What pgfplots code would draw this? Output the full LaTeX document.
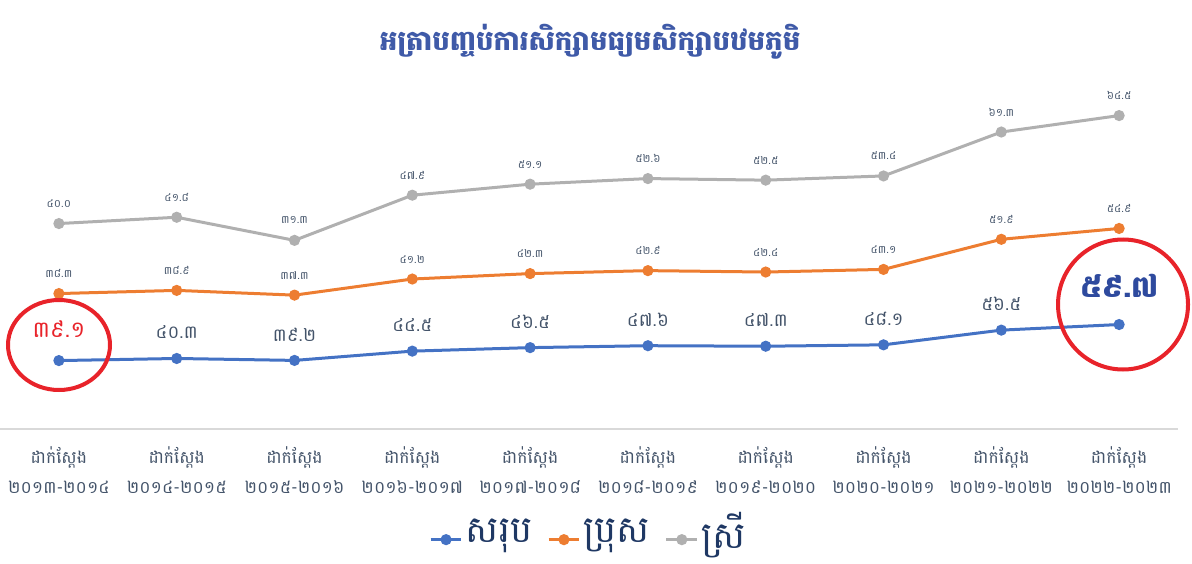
\documentclass[border=0pt]{standalone}
\usepackage{pgfplots}
\pgfplotsset{compat=1.18}
\usepackage{fontspec}
\newfontfamily\khmer[Script=Khmer]{Battambang}
\definecolor{cblue}{HTML}{4472C4}
\definecolor{corange}{HTML}{ED7D31}
\definecolor{cgrey}{HTML}{B0B0B0}
\definecolor{lblcol}{HTML}{44546A}
\definecolor{titlecol}{HTML}{3F5AA8}
\definecolor{bigcol}{HTML}{2E4A9E}
\definecolor{redc}{HTML}{E8232A}
\definecolor{axisgray}{HTML}{D9D9D9}
\definecolor{legcol}{HTML}{1F3864}
\begin{document}
\begin{tikzpicture}
\path[use as bounding box] (0,0) rectangle (596pt,281.5pt);
\node[font=\khmer\bfseries\fontsize{13.8}{15}\selectfont, text=titlecol] at (295pt,260.5pt) {អត្រាបញ្ចប់ការសិក្សាមធ្យមសិក្សាបឋមភូមិ};
\begin{axis}[
  at={(0pt,67pt)}, anchor=south west,
  scale only axis, width=589pt, height=175pt,
  xmin=-0.5, xmax=9.5, ymin=0, ymax=200,
  axis y line=none, axis x line*=bottom,
  x axis line style={draw=axisgray, line width=0.6pt, -},
  xtick={0,...,9}, major tick length=0,
  xticklabels={{ដាក់ស្តែង\\២០១៣-២០១៤},{ដាក់ស្តែង\\២០១៤-២០១៥},{ដាក់ស្តែង\\២០១៥-២០១៦},{ដាក់ស្តែង\\២០១៦-២០១៧},{ដាក់ស្តែង\\២០១៧-២០១៨},{ដាក់ស្តែង\\២០១៨-២០១៩},{ដាក់ស្តែង\\២០១៩-២០២០},{ដាក់ស្តែង\\២០២០-២០២១},{ដាក់ស្តែង\\២០២១-២០២២},{ដាក់ស្តែង\\២០២២-២០២៣}},
  xticklabel style={align=center, text=lblcol, font=\khmer\fontsize{8.6}{15}\selectfont, yshift=-5.5pt},
  stack plots=y,
  point meta=explicit symbolic,
  nodes near coords,
  every node near coord/.append style={anchor=center, text=lblcol, font=\khmer\fontsize{5.5}{6}\selectfont, yshift=10pt},
  legend style={at={(0.5,-0.295)}, anchor=center, draw=none, legend columns=3,
    font=\khmer\fontsize{18.5}{20}\selectfont, text=legcol,
    nodes={inner xsep=1.5pt, inner ysep=1pt},
    /tikz/every odd column/.append style={column sep=0pt},
    /tikz/every even column/.append style={column sep=6pt}},
  legend image code/.code={\draw[#1,mark repeat=2,mark phase=2] plot coordinates {(0cm,-0.13cm)(0.27cm,-0.13cm)(0.54cm,-0.13cm)};},
]
\addplot[color=cblue, line width=1.5pt, mark=*, mark size=2pt,
  every node near coord/.append style={font=\khmer\fontsize{9}{10}\selectfont, yshift=3pt}]
coordinates {
(0,39.1) [{}] (1,40.3) [៤០.៣] (2,39.2) [៣៩.២] (3,44.5) [៤៤.៥] (4,46.5) [៤៦.៥]
(5,47.6) [៤៧.៦] (6,47.3) [៤៧.៣] (7,48.1) [៤៨.១] (8,56.5) [៥៦.៥] (9,59.7) [{}]};
\addlegendentry{សរុប}
\addplot[color=corange, line width=1.5pt, mark=*, mark size=2pt]
coordinates {
(0,38.3) [៣៨.៣] (1,38.9) [៣៨.៩] (2,37.3) [៣៧.៣] (3,41.2) [៤១.២] (4,42.3) [៤២.៣]
(5,42.9) [៤២.៩] (6,42.4) [៤២.៤] (7,43.1) [៤៣.១] (8,51.9) [៥១.៩] (9,54.9) [៥៤.៩]};
\addlegendentry{ប្រុស}
\addplot[color=cgrey, line width=1.5pt, mark=*, mark size=2pt]
coordinates {
(0,40.0) [៤០.០] (1,41.8) [៤១.៨] (2,31.3) [៣១.៣] (3,47.9) [៤៧.៩] (4,51.1) [៥១.១]
(5,52.6) [៥២.៦] (6,52.5) [៥២.៥] (7,53.4) [៥៣.៤] (8,61.3) [៦១.៣] (9,64.5) [៦៤.៥]};
\addlegendentry{ស្រី}
\node[font=\khmer\fontsize{11.3}{12}\selectfont, text=redc] at (axis cs:0,39.1) [yshift=16pt] {៣៩.១};
\node[font=\khmer\bfseries\fontsize{15}{16}\selectfont, text=bigcol] at (axis cs:9,59.7) [yshift=19.5pt] {៥៩.៧};
\end{axis}
\draw[redc, line width=2pt] (29.5pt,109pt) ellipse [x radius=25.5pt, y radius=22.5pt];
\draw[redc, line width=2pt] (561.5pt,129.25pt) circle [radius=32.5pt];
\end{tikzpicture}
\end{document}
